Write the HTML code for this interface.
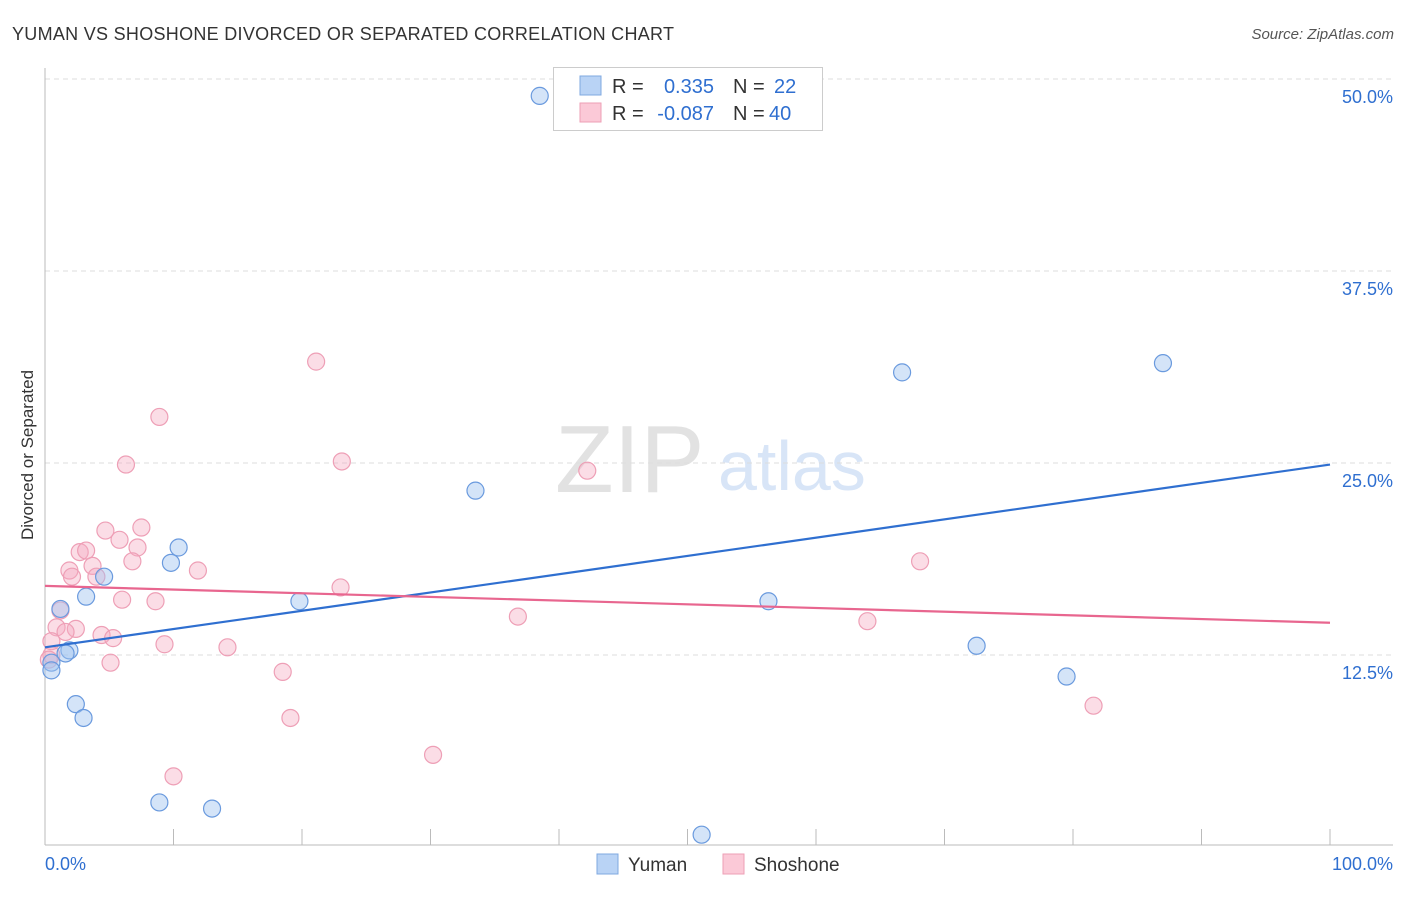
<!DOCTYPE html>
<html><head><meta charset="utf-8"><style>
body{margin:0;background:#fff;font-family:"Liberation Sans",sans-serif;}
svg text{font-family:"Liberation Sans",sans-serif;}
</style></head><body>
<svg id="chart" width="1406" height="892" xmlns="http://www.w3.org/2000/svg">
<text x="12" y="40" font-size="18" fill="#333" textLength="662">YUMAN VS SHOSHONE DIVORCED OR SEPARATED CORRELATION CHART</text>
<text x="1394" y="39" font-size="15" fill="#555" font-style="italic" text-anchor="end">Source: ZipAtlas.com</text>
<text transform="translate(33,455) rotate(-90)" font-size="17" fill="#333" text-anchor="middle">Divorced or Separated</text>
<text x="555" y="492" font-size="96" fill="#e2e2e2" font-family="Liberation Serif,serif">ZIP</text>
<text x="718" y="490" font-size="70" fill="#d8e5f7">atlas</text>
<g id="grid"></g><g id="axes"></g><g id="points"></g><g id="lines"></g>
<g>
<rect x="553.5" y="67.5" width="269" height="63" fill="#fff" stroke="#ccc"/>
<rect x="580" y="76" width="21" height="19" fill="#b9d3f5" stroke="#7fa8e0"/>
<rect x="580" y="103" width="21" height="19" fill="#fbc9d7" stroke="#ee9fb6"/>
<text x="612" y="93" font-size="20" fill="#333">R =</text><text x="714" y="93" font-size="20" fill="#2f6fd0" text-anchor="end">0.335</text>
<text x="733" y="93" font-size="20" fill="#333">N =</text><text x="774" y="93" font-size="20" fill="#2f6fd0">22</text>
<text x="612" y="120" font-size="20" fill="#333">R =</text><text x="714" y="120" font-size="20" fill="#2f6fd0" text-anchor="end">-0.087</text>
<text x="733" y="120" font-size="20" fill="#333">N =</text><text x="769" y="120" font-size="20" fill="#2f6fd0">40</text>
</g>
<g>
<rect x="597" y="854" width="21" height="20" fill="#b9d3f5" stroke="#7fa8e0"/>
<text x="628" y="871" font-size="19" fill="#333">Yuman</text>
<rect x="723" y="854" width="21" height="20" fill="#fbc9d7" stroke="#ee9fb6"/>
<text x="754" y="871" font-size="19" fill="#333">Shoshone</text>
</g>
</svg>
<script>
const yumanX=[38.5,66.7,87.0,33.5,10.4,9.8,4.6,3.2,19.8,56.3,1.2,1.9,1.6,72.5,0.5,0.5,79.5,2.4,3.0,8.9,13.0,51.1];
const yumanY=[48.9,30.9,31.5,23.2,19.5,18.5,17.6,16.3,16.0,16.0,15.5,12.8,12.6,13.1,12.0,11.5,11.1,9.3,8.4,2.9,2.5,0.8];
const shoshoneX=[21.1,8.9,6.3,23.1,42.2,7.5,4.7,5.8,7.2,2.7,3.2,3.7,1.9,2.1,4.0,6.8,11.9,23.0,68.1,6.0,8.6,1.2,36.8,64.0,0.9,2.4,1.6,4.4,5.3,0.5,9.3,14.2,5.1,18.5,0.5,19.1,81.6,30.2,10.0,0.3];
const shoshoneY=[31.6,28.0,24.9,25.1,24.5,20.8,20.6,20.0,19.5,19.2,19.3,18.3,18.0,17.6,17.6,18.6,18.0,16.9,18.6,16.1,16.0,15.4,15.0,14.7,14.3,14.2,14.0,13.8,13.6,13.4,13.2,13.0,12.0,11.4,12.5,8.4,9.2,6.0,4.6,12.2];
const yumanTrend=[13.0,24.9];
const shoshoneTrend=[17.0,14.6];
const yTicks=[12.5,25.0,37.5,50.0];
const yTickLabels=["12.5%","25.0%","37.5%","50.0%"];
const xTicks=[0,10,20,30,40,50,60,70,80,90,100];
const NS="http://www.w3.org/2000/svg";
const xs=v=>45+v*12.85;
const ys=v=>847-v*15.36;
function mk(tag,attrs,parent){const e=document.createElementNS(NS,tag);for(const k in attrs)e.setAttribute(k,attrs[k]);document.getElementById(parent).appendChild(e);return e;}
yTicks.forEach((t,i)=>{
 const l=mk('line',{x1:45,x2:1393,y1:ys(t),y2:ys(t),stroke:'#ddd','stroke-dasharray':'5,4'},'grid');
 
 
 const tx=mk('text',{x:1393,y:ys(t)+24,'font-size':18,fill:'#2f6fd0','text-anchor':'end'},'grid');
 tx.textContent=yTickLabels[i];
 
 
});
const ax=mk('line',{x1:45,x2:1393,y1:845,y2:845,stroke:'#bbb'},'axes');


const ay=mk('line',{x1:45,x2:45,y1:68,y2:845,stroke:'#bbb'},'axes');


xTicks.forEach(t=>{
 const l=mk('line',{x1:xs(t),x2:xs(t),y1:829,y2:845,stroke:'#bbb'},'axes');
 
 
});
const xl0=mk('text',{x:45,y:870,'font-size':18,fill:'#2f6fd0'},'axes');xl0.textContent='0.0%';


const xl1=mk('text',{x:1393,y:870,'font-size':18,fill:'#2f6fd0','text-anchor':'end'},'axes');xl1.textContent='100.0%';


shoshoneX.forEach((x,i)=>{
 const c=mk('circle',{cx:xs(x),cy:ys(shoshoneY[i]),r:8.5,fill:'rgba(244,170,192,0.4)',stroke:'#ee9fb6','stroke-width':1.2},'points');
 
 
});
yumanX.forEach((x,i)=>{
 const c=mk('circle',{cx:xs(x),cy:ys(yumanY[i]),r:8.5,fill:'rgba(160,195,240,0.45)',stroke:'#6a9ade','stroke-width':1.2},'points');
 
 
});
const tl1=mk('line',{x1:xs(0),x2:xs(100),y1:ys(yumanTrend[0]),y2:ys(yumanTrend[1]),stroke:'#2f6fd0','stroke-width':2.2},'lines');


const tl2=mk('line',{x1:xs(0),x2:xs(100),y1:ys(shoshoneTrend[0]),y2:ys(shoshoneTrend[1]),stroke:'#e8668f','stroke-width':2.2},'lines');


</script>
</body></html>
